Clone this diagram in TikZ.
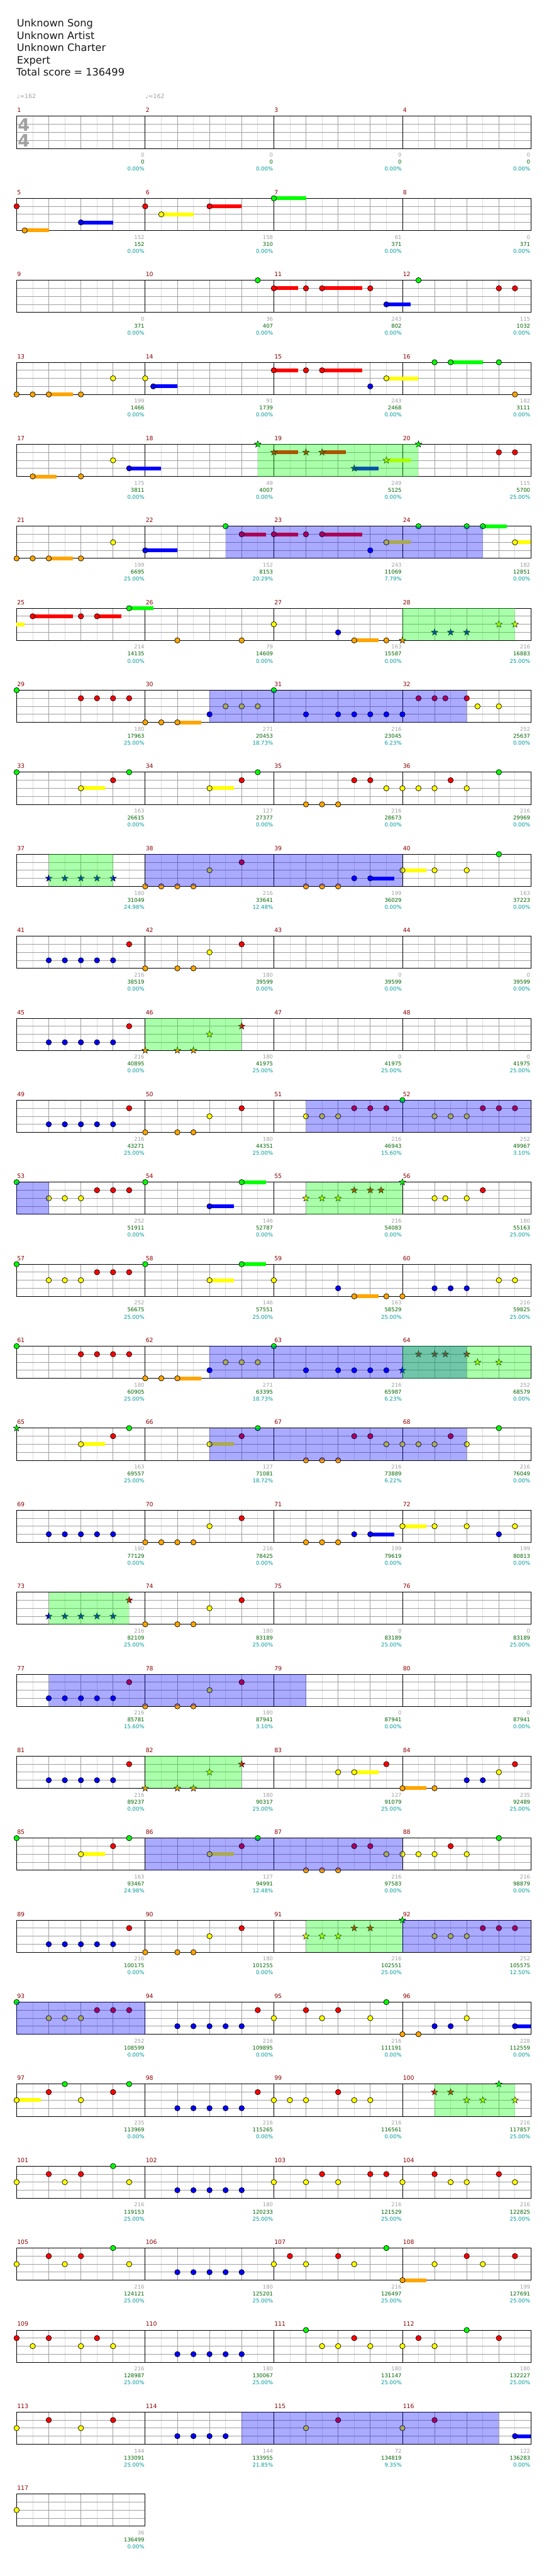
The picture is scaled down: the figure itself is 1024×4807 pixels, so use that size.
\documentclass[tikz,border=0pt]{standalone}
\usepackage{fontspec}
\setmainfont{DejaVu Sans}
\usetikzlibrary{shapes.geometric}
\definecolor{lane0}{RGB}{0,255,0}
\definecolor{lane1}{RGB}{255,0,0}
\definecolor{lane2}{RGB}{255,255,0}
\definecolor{lane3}{RGB}{0,0,255}
\definecolor{lane4}{RGB}{255,165,0}
\definecolor{mnumc}{RGB}{139,0,0}
\definecolor{scgray}{RGB}{160,160,160}
\definecolor{scgreen}{RGB}{0,100,0}
\definecolor{scteal}{RGB}{0,153,153}
\definecolor{gridg}{RGB}{160,160,160}
\definecolor{gridl}{RGB}{220,220,220}
\definecolor{spblue}{RGB}{0,0,255}
\definecolor{spgreen}{RGB}{0,255,0}
\tikzset{
  mnum/.style={anchor=base west, inner sep=0pt, text=mnumc, font=\fontsize{11}{11}\selectfont},
  sca/.style={anchor=base east, inner sep=0pt, text=scgray, font=\fontsize{10}{10}\selectfont},
  scb/.style={anchor=base east, inner sep=0pt, text=scgreen, font=\fontsize{10}{10}\selectfont},
  scc/.style={anchor=base east, inner sep=0pt, text=scteal, font=\fontsize{10}{10}\selectfont},
  hdr/.style={anchor=base west, inner sep=0pt, text=black!90, font=\fontsize{19}{19}\selectfont},
  tempo/.style={anchor=base west, inner sep=0pt, text=scgray, font=\fontsize{11}{11}\selectfont},
  tsig/.style={inner sep=0pt, text=scgray, font=\fontsize{32}{32}\selectfont\bfseries},
  notehead/.style={draw=black, line width=0.8pt},
  starhead/.style={star, star points=5, star point ratio=2.5, minimum size=13pt, inner sep=0pt, draw=black, line width=0.6pt}
}
\newcommand{\setrow}[1]{\def\currow{#1}\pgfmathsetmacro\ry{217+153*#1}}
\newcommand{\grid}[1]{%
  \pgfmathsetmacro\xe{31+240*#1}%
  \pgfmathtruncatemacro\ne{8*#1-1}%
  \foreach \k in {1,3,...,\ne}{\draw[gridl] (31+30*\k,\ry) -- ++(0,60);}
  \foreach \k in {2,4,...,\ne}{\draw[gridg] (31+30*\k,\ry) -- ++(0,60);}
  \foreach \j in {15,30,45}{\draw[gridg] (31,\ry+\j) -- (\xe,\ry+\j);}
  \ifnum#1>1 \foreach \k in {2,...,#1}{\draw[black] (31+240*\k-240,\ry) -- ++(0,60);}\fi
  \draw[black] (31,\ry) rectangle (\xe,\ry+60);
}
\newcommand{\nt}[2]{\filldraw[notehead, fill=lane#2] (31+30*#1,\ry+15*#2) circle[radius=5];}
\newcommand{\st}[2]{\path (31+30*#1,\ry+15*#2) node[starhead, fill=lane#2] {};}
\newcommand{\sus}[3]{\fill[lane#3] (31+30*#1,\ry+15*#3-3.5) rectangle (31+30*#2,\ry+15*#3+3.5);}
\newcommand{\spb}[2]{\fill[spblue, opacity=0.333] (31+30*#1,\ry) rectangle (31+30*#2,\ry+60);}
\newcommand{\spg}[2]{\fill[spgreen, opacity=0.333] (31+30*#1,\ry) rectangle (31+30*#2,\ry+60);}
\newcommand{\ml}[4]{%
  \pgfmathsetmacro\mx{31+240*#1}%
  \pgfmathtruncatemacro\mn{4*\currow+#1+1}%
  \node[mnum] (mn\mn) at (\mx+0.5,\ry-7) {\mn};
  \node[sca] (sa\mn) at (\mx+239,\ry+76) {#2};
  \node[scb] (sb\mn) at (\mx+239,\ry+89) {#3};
  \node[scc] (sc\mn) at (\mx+239,\ry+102) {#4};
}
\newcommand{\bluerun}[1]{\foreach \q in {0,...,4}{\pgfmathsetmacro\qq{#1+\q}\nt{\qq}{3}}}
\begin{document}
\begin{tikzpicture}[x=1pt, y=-1pt, line width=1pt]
\useasboundingbox (0,0) rectangle (1024,4807);
\fill[white] (0,0) rectangle (1024,4807);
% header
\node[hdr] (h1) at (31,50) {Unknown Song};
\node[hdr] (h2) at (31,73) {Unknown Artist};
\node[hdr] (h3) at (31,96) {Unknown Charter};
\node[hdr] (h4) at (31,119) {Expert};
\node[hdr] (h5) at (30,142) {Total score = 136499};
% row 0
\setrow{0}\grid{4}
\node[tempo] (tp1) at (31,184) {\char"2669=162};
\node[tempo] (tp2) at (271,184) {\char"2669=162};
\node[tsig] (ts1) at (44.5,233) {4};
\node[tsig] (ts2) at (44.5,262) {4};
\ml{0}{0}{0}{0.00\%}\ml{1}{0}{0}{0.00\%}\ml{2}{0}{0}{0.00\%}\ml{3}{0}{0}{0.00\%}
% row 1
\setrow{1}\grid{4}
\sus{0.5}{2}{4}\sus{4}{6}{3}\sus{9}{11}{2}\sus{12}{14}{1}\sus{16}{18}{0}
\nt{0}{1}\nt{0.5}{4}\nt{4}{3}\nt{8}{1}\nt{9}{2}\nt{12}{1}\nt{16}{0}
\ml{0}{152}{152}{0.00\%}\ml{1}{158}{310}{0.00\%}\ml{2}{61}{371}{0.00\%}\ml{3}{0}{371}{0.00\%}
% row 2
\setrow{2}\grid{4}
\sus{16}{17.5}{1}\sus{19}{21.5}{1}\sus{23}{24.5}{3}
\nt{15}{0}\nt{16}{1}\nt{18}{1}\nt{19}{1}\nt{22}{1}\nt{23}{3}\nt{25}{0}\nt{30}{1}\nt{31}{1}
\ml{0}{0}{371}{0.00\%}\ml{1}{36}{407}{0.00\%}\ml{2}{243}{802}{0.00\%}\ml{3}{115}{1032}{0.00\%}
% row 3
\setrow{3}\grid{4}
\sus{2}{3.5}{4}\sus{8.5}{10}{3}\sus{16}{17.5}{1}\sus{19}{21.5}{1}\sus{23}{25}{2}\sus{27}{29}{0}
\nt{0}{4}\nt{1}{4}\nt{2}{4}\nt{4}{4}\nt{6}{2}\nt{8}{2}\nt{8.5}{3}\nt{16}{1}\nt{18}{1}\nt{19}{1}\nt{22}{3}\nt{23}{2}\nt{26}{0}\nt{27}{0}\nt{30}{0}\nt{31}{4}
\ml{0}{199}{1466}{0.00\%}\ml{1}{91}{1739}{0.00\%}\ml{2}{243}{2468}{0.00\%}\ml{3}{182}{3111}{0.00\%}
% row 4
\setrow{4}\grid{4}
\sus{1}{2.5}{4}\sus{7}{9}{3}\sus{16}{17.5}{1}\sus{19}{20.5}{1}\sus{21}{22.5}{3}\sus{23}{24.5}{2}
\nt{1}{4}\nt{4}{4}\nt{6}{2}\nt{7}{3}
\st{15}{0}\st{16}{1}\st{18}{1}\st{19}{1}\st{21}{3}\st{23}{2}\st{25}{0}
\nt{30}{1}\nt{31}{1}
\spg{15}{25}
\ml{0}{175}{3811}{0.00\%}\ml{1}{49}{4007}{0.00\%}\ml{2}{249}{5125}{0.00\%}\ml{3}{115}{5700}{25.00\%}
% row 5
\setrow{5}\grid{4}
\sus{2}{3.5}{4}\sus{8}{10}{3}\sus{14}{15.5}{1}\sus{16}{17.5}{1}\sus{19}{21.5}{1}\sus{23}{24.5}{2}\sus{29}{30.5}{0}\sus{31}{32}{2}
\nt{0}{4}\nt{1}{4}\nt{2}{4}\nt{4}{4}\nt{6}{2}\nt{8}{3}\nt{13}{0}\nt{14}{1}\nt{16}{1}\nt{18}{1}\nt{19}{1}\nt{22}{3}\nt{23}{2}\nt{25}{0}\nt{28}{0}\nt{29}{0}\nt{31}{2}
\spb{13}{29}
\ml{0}{199}{6695}{25.00\%}\ml{1}{152}{8153}{20.29\%}\ml{2}{243}{11069}{7.79\%}\ml{3}{182}{12851}{0.00\%}
% row 6
\setrow{6}\grid{4}
\sus{0}{0.5}{2}\sus{1}{3.5}{1}\sus{5}{6.5}{1}\sus{7}{8.5}{0}\sus{21}{22.5}{4}
\nt{1}{1}\nt{4}{1}\nt{5}{1}\nt{7}{0}\nt{10}{4}\nt{14}{4}\nt{16}{2}\nt{20}{3}\nt{21}{4}\nt{23}{4}
\st{24}{4}\st{26}{3}\st{27}{3}\st{28}{3}\st{30}{2}\st{31}{2}
\spg{24}{31}
\ml{0}{214}{14135}{0.00\%}\ml{1}{79}{14609}{0.00\%}\ml{2}{163}{15587}{0.00\%}\ml{3}{216}{16883}{25.00\%}
% row 7
\setrow{7}\grid{4}
\sus{10}{11.5}{4}
\nt{0}{0}\nt{4}{1}\nt{5}{1}\nt{6}{1}\nt{7}{1}\nt{8}{4}\nt{9}{4}\nt{10}{4}\nt{12}{3}\nt{13}{2}\nt{14}{2}\nt{15}{2}\nt{16}{0}\nt{18}{3}\nt{20}{3}\nt{21}{3}\nt{22}{3}\nt{23}{3}\nt{24}{3}\nt{25}{1}\nt{26}{1}\nt{26.67}{1}\nt{28}{1}\nt{28.67}{2}\nt{30}{2}
\spb{12}{28}
\ml{0}{180}{17963}{25.00\%}\ml{1}{271}{20453}{18.73\%}\ml{2}{216}{23045}{6.23\%}\ml{3}{252}{25637}{0.00\%}
% row 8
\setrow{8}\grid{4}
\sus{4}{5.5}{2}\sus{12}{13.5}{2}
\nt{0}{0}\nt{4}{2}\nt{6}{1}\nt{7}{0}\nt{12}{2}\nt{14}{1}\nt{15}{0}\nt{18}{4}\nt{19}{4}\nt{20}{4}\nt{21}{1}\nt{22}{1}\nt{23}{2}\nt{24}{2}\nt{25}{2}\nt{26}{2}\nt{27}{1}\nt{28}{2}\nt{30}{0}
\ml{0}{163}{26615}{0.00\%}\ml{1}{127}{27377}{0.00\%}\ml{2}{216}{28673}{0.00\%}\ml{3}{216}{29969}{0.00\%}
% row 9
\setrow{9}\grid{4}
\sus{22}{23.5}{3}\sus{24}{25.5}{2}
\st{2}{3}\st{3}{3}\st{4}{3}\st{5}{3}\st{6}{3}
\nt{8}{4}\nt{9}{4}\nt{10}{4}\nt{11}{4}\nt{12}{2}\nt{14}{1}\nt{18}{4}\nt{19}{4}\nt{20}{4}\nt{21}{3}\nt{22}{3}\nt{24}{2}\nt{26}{2}\nt{28}{2}\nt{30}{0}
\spg{2}{6}\spb{8}{24}
\ml{0}{180}{31049}{24.98\%}\ml{1}{216}{33641}{12.48\%}\ml{2}{199}{36029}{0.00\%}\ml{3}{163}{37223}{0.00\%}
% row 10
\setrow{10}\grid{4}
\bluerun{2}\nt{7}{1}\nt{8}{4}\nt{10}{4}\nt{11}{4}\nt{12}{2}\nt{14}{1}
\ml{0}{216}{38519}{0.00\%}\ml{1}{180}{39599}{0.00\%}\ml{2}{0}{39599}{0.00\%}\ml{3}{0}{39599}{0.00\%}
% row 11
\setrow{11}\grid{4}
\bluerun{2}\nt{7}{1}
\st{8}{4}\st{10}{4}\st{11}{4}\st{12}{2}\st{14}{1}
\spg{8}{14}
\ml{0}{216}{40895}{0.00\%}\ml{1}{180}{41975}{25.00\%}\ml{2}{0}{41975}{25.00\%}\ml{3}{0}{41975}{25.00\%}
% row 12
\setrow{12}\grid{4}
\bluerun{2}\nt{7}{1}\nt{8}{4}\nt{10}{4}\nt{11}{4}\nt{12}{2}\nt{14}{1}
\nt{18}{2}\nt{19}{2}\nt{20}{2}\nt{21}{1}\nt{22}{1}\nt{23}{1}\nt{24}{0}\nt{26}{2}\nt{27}{2}\nt{28}{2}\nt{29}{1}\nt{30}{1}\nt{31}{1}
\spb{18}{32}
\ml{0}{216}{43271}{25.00\%}\ml{1}{180}{44351}{25.00\%}\ml{2}{216}{46943}{15.60\%}\ml{3}{252}{49967}{3.10\%}
% row 13
\setrow{13}\grid{4}
\sus{12}{13.5}{3}\sus{14}{15.5}{0}
\nt{0}{0}\nt{2}{2}\nt{3}{2}\nt{4}{2}\nt{5}{1}\nt{6}{1}\nt{7}{1}\nt{8}{0}\nt{12}{3}\nt{14}{0}
\st{18}{2}\st{19}{2}\st{20}{2}\st{21}{1}\st{22}{1}\st{22.67}{1}\st{24}{0}
\nt{26}{2}\nt{26.67}{2}\nt{28}{2}\nt{29}{1}
\spb{0}{2}\spg{18}{24}
\ml{0}{252}{51911}{0.00\%}\ml{1}{146}{52787}{0.00\%}\ml{2}{216}{54083}{0.00\%}\ml{3}{180}{55163}{25.00\%}
% row 14
\setrow{14}\grid{4}
\sus{12}{13.5}{2}\sus{14}{15.5}{0}\sus{21}{22.5}{4}
\nt{0}{0}\nt{2}{2}\nt{3}{2}\nt{4}{2}\nt{5}{1}\nt{6}{1}\nt{7}{1}\nt{8}{0}\nt{12}{2}\nt{14}{0}\nt{16}{2}\nt{20}{3}\nt{21}{4}\nt{23}{4}\nt{24}{4}\nt{26}{3}\nt{27}{3}\nt{28}{3}\nt{30}{2}\nt{31}{2}
\ml{0}{252}{56675}{25.00\%}\ml{1}{146}{57551}{25.00\%}\ml{2}{163}{58529}{25.00\%}\ml{3}{216}{59825}{25.00\%}
% row 15
\setrow{15}\grid{4}
\sus{10}{11.5}{4}
\nt{0}{0}\nt{4}{1}\nt{5}{1}\nt{6}{1}\nt{7}{1}\nt{8}{4}\nt{9}{4}\nt{10}{4}\nt{12}{3}\nt{13}{2}\nt{14}{2}\nt{15}{2}\nt{16}{0}\nt{18}{3}\nt{20}{3}\nt{21}{3}\nt{22}{3}\nt{23}{3}
\st{24}{3}\st{25}{1}\st{26}{1}\st{26.67}{1}\st{28}{1}\st{28.67}{2}\st{30}{2}
\spb{12}{28}\spg{24}{32}
\ml{0}{180}{60905}{25.00\%}\ml{1}{271}{63395}{18.73\%}\ml{2}{216}{65987}{6.23\%}\ml{3}{252}{68579}{0.00\%}
% row 16
\setrow{16}\grid{4}
\sus{4}{5.5}{2}\sus{12}{13.5}{2}
\st{0}{0}\nt{4}{2}\nt{6}{1}\nt{7}{0}\nt{12}{2}\nt{14}{1}\nt{15}{0}\nt{18}{4}\nt{19}{4}\nt{20}{4}\nt{21}{1}\nt{22}{1}\nt{23}{2}\nt{24}{2}\nt{25}{2}\nt{26}{2}\nt{27}{1}\nt{28}{2}\nt{30}{0}
\spb{12}{28}
\ml{0}{163}{69557}{25.00\%}\ml{1}{127}{71081}{18.72\%}\ml{2}{216}{73889}{6.22\%}\ml{3}{216}{76049}{0.00\%}
% row 17
\setrow{17}\grid{4}
\sus{22}{23.5}{3}\sus{24}{25.5}{2}
\bluerun{2}\nt{8}{4}\nt{9}{4}\nt{10}{4}\nt{11}{4}\nt{12}{2}\nt{14}{1}\nt{18}{4}\nt{19}{4}\nt{20}{4}\nt{21}{3}\nt{22}{3}\nt{24}{2}\nt{26}{2}\nt{28}{2}\nt{30}{3}\nt{31}{2}
\ml{0}{180}{77129}{0.00\%}\ml{1}{216}{78425}{0.00\%}\ml{2}{199}{79619}{0.00\%}\ml{3}{199}{80813}{0.00\%}
% row 18
\setrow{18}\grid{4}
\st{2}{3}\st{3}{3}\st{4}{3}\st{5}{3}\st{6}{3}\st{7}{1}
\nt{8}{4}\nt{10}{4}\nt{11}{4}\nt{12}{2}\nt{14}{1}
\spg{2}{7}
\ml{0}{216}{82109}{25.00\%}\ml{1}{180}{83189}{25.00\%}\ml{2}{0}{83189}{25.00\%}\ml{3}{0}{83189}{25.00\%}
% row 19
\setrow{19}\grid{4}
\bluerun{2}\nt{7}{1}\nt{8}{4}\nt{10}{4}\nt{11}{4}\nt{12}{2}\nt{14}{1}
\spb{2}{18}
\ml{0}{216}{85781}{15.60\%}\ml{1}{180}{87941}{3.10\%}\ml{2}{0}{87941}{0.00\%}\ml{3}{0}{87941}{0.00\%}
% row 20
\setrow{20}\grid{4}
\sus{21}{22.5}{2}\sus{24}{25.5}{4}
\bluerun{2}\nt{7}{1}
\st{8}{4}\st{10}{4}\st{11}{4}\st{12}{2}\st{14}{1}
\nt{20}{2}\nt{21}{2}\nt{23}{1}\nt{24}{4}\nt{26}{4}\nt{28}{3}\nt{29}{3}\nt{30}{2}\nt{31}{1}
\spg{8}{14}
\ml{0}{216}{89237}{0.00\%}\ml{1}{180}{90317}{25.00\%}\ml{2}{127}{91079}{25.00\%}\ml{3}{235}{92489}{25.00\%}
% row 21
\setrow{21}\grid{4}
\sus{4}{5.5}{2}\sus{12}{13.5}{2}
\nt{0}{0}\nt{4}{2}\nt{6}{1}\nt{7}{0}\nt{12}{2}\nt{14}{1}\nt{15}{0}\nt{18}{4}\nt{19}{4}\nt{20}{4}\nt{21}{1}\nt{22}{1}\nt{23}{2}\nt{24}{2}\nt{25}{2}\nt{26}{2}\nt{27}{1}\nt{28}{2}\nt{30}{0}
\spb{8}{24}
\ml{0}{163}{93467}{24.98\%}\ml{1}{127}{94991}{12.48\%}\ml{2}{216}{97583}{0.00\%}\ml{3}{216}{98879}{0.00\%}
% row 22
\setrow{22}\grid{4}
\bluerun{2}\nt{7}{1}\nt{8}{4}\nt{10}{4}\nt{11}{4}\nt{12}{2}\nt{14}{1}
\st{18}{2}\st{19}{2}\st{20}{2}\st{21}{1}\st{22}{1}\st{24}{0}
\nt{26}{2}\nt{27}{2}\nt{28}{2}\nt{29}{1}\nt{30}{1}\nt{31}{1}
\spg{18}{24}\spb{24}{32}
\ml{0}{216}{100175}{0.00\%}\ml{1}{180}{101255}{0.00\%}\ml{2}{216}{102551}{25.00\%}\ml{3}{252}{105575}{12.50\%}
% row 23
\setrow{23}\grid{4}
\sus{31}{32}{3}
\nt{0}{0}\nt{2}{2}\nt{3}{2}\nt{4}{2}\nt{5}{1}\nt{6}{1}\nt{7}{1}
\bluerun{10}\nt{15}{1}
\nt{16}{2}\nt{18}{1}\nt{19}{2}\nt{20}{1}\nt{22}{2}\nt{23}{0}
\nt{24}{4}\nt{25}{4}\nt{26}{3}\nt{27}{3}\nt{28}{2}\nt{31}{3}
\spb{0}{8}
\ml{0}{252}{108599}{0.00\%}\ml{1}{216}{109895}{0.00\%}\ml{2}{216}{111191}{0.00\%}\ml{3}{228}{112559}{0.00\%}
% row 24
\setrow{24}\grid{4}
\sus{0}{1.5}{2}
\nt{0}{2}\nt{2}{1}\nt{3}{0}\nt{4}{2}\nt{6}{1}\nt{7}{0}
\bluerun{10}\nt{15}{1}
\nt{16}{2}\nt{17}{2}\nt{18}{2}\nt{20}{1}\nt{21}{2}\nt{22}{2}
\st{26}{1}\st{27}{1}\st{28}{2}\st{29}{2}\st{30}{0}\st{31}{2}
\spg{26}{31}
\ml{0}{235}{113969}{0.00\%}\ml{1}{216}{115265}{0.00\%}\ml{2}{216}{116561}{0.00\%}\ml{3}{216}{117857}{25.00\%}
% row 25
\setrow{25}\grid{4}
\nt{0}{2}\nt{2}{1}\nt{3}{2}\nt{4}{1}\nt{6}{0}\nt{7}{2}
\bluerun{10}
\nt{16}{2}\nt{18}{2}\nt{19}{1}\nt{20}{2}\nt{22}{1}\nt{23}{1}
\nt{24}{2}\nt{26}{1}\nt{27}{2}\nt{28}{2}\nt{30}{1}\nt{31}{2}
\ml{0}{216}{119153}{25.00\%}\ml{1}{180}{120233}{25.00\%}\ml{2}{216}{121529}{25.00\%}\ml{3}{216}{122825}{25.00\%}
% row 26
\setrow{26}\grid{4}
\sus{24}{25.5}{4}
\nt{0}{2}\nt{2}{1}\nt{3}{2}\nt{4}{1}\nt{6}{0}\nt{7}{2}
\bluerun{10}
\nt{16}{2}\nt{17}{1}\nt{18}{2}\nt{20}{1}\nt{21}{2}\nt{23}{0}
\nt{24}{4}\nt{26}{2}\nt{28}{1}\nt{29}{2}\nt{31}{1}
\ml{0}{216}{124121}{25.00\%}\ml{1}{180}{125201}{25.00\%}\ml{2}{216}{126497}{25.00\%}\ml{3}{199}{127691}{25.00\%}
% row 27
\setrow{27}\grid{4}
\nt{0}{1}\nt{1}{2}\nt{2}{1}\nt{4}{2}\nt{5}{1}\nt{6}{2}
\bluerun{10}
\nt{18}{0}\nt{19}{2}\nt{20}{2}\nt{21}{1}\nt{22}{2}
\nt{24}{2}\nt{25}{1}\nt{26}{2}\nt{28}{0}\nt{30}{1}
\ml{0}{216}{128987}{25.00\%}\ml{1}{180}{130067}{25.00\%}\ml{2}{180}{131147}{25.00\%}\ml{3}{180}{132227}{25.00\%}
% row 28
\setrow{28}\grid{4}
\sus{31}{32}{3}
\nt{0}{2}\nt{2}{1}\nt{4}{2}\nt{6}{1}
\nt{10}{3}\nt{11}{3}\nt{12}{3}\nt{13}{3}
\nt{18}{2}\nt{20}{1}
\nt{24}{2}\nt{26}{1}\nt{31}{3}
\spb{14}{30}
\ml{0}{144}{133091}{25.00\%}\ml{1}{144}{133955}{21.85\%}\ml{2}{72}{134819}{9.35\%}\ml{3}{122}{136283}{0.00\%}
% row 29
\setrow{29}\grid{1}
\nt{0}{2}
\ml{0}{36}{136499}{0.00\%}
\end{tikzpicture}
\end{document}
